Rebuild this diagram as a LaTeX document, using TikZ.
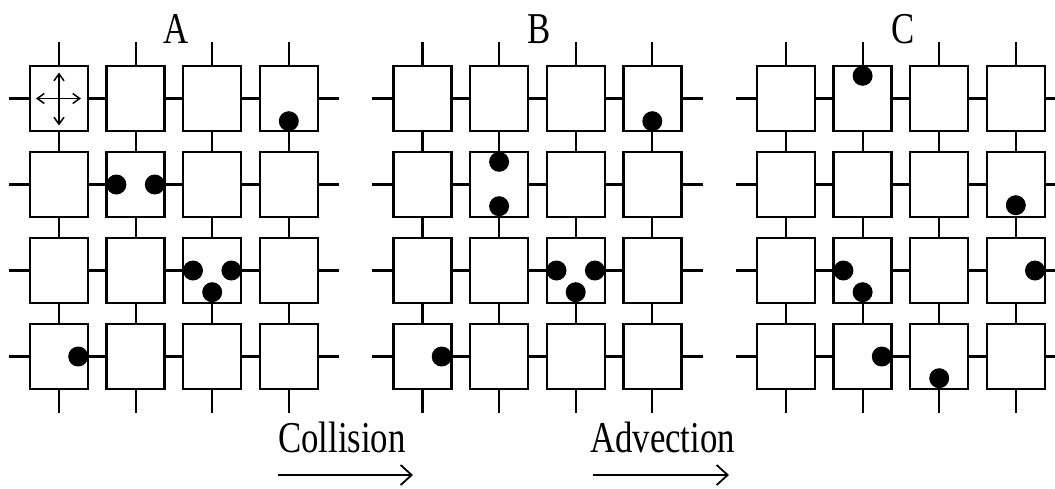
\documentclass[tikz,border=0pt]{standalone}
\usepackage{fontspec}
\setmainfont{Liberation Serif}
\usetikzlibrary{arrows.meta,calc}

\begin{document}
\begin{tikzpicture}[x=1pt,y=-1pt,
  cell/.style={draw,line width=2.4pt,minimum width=58pt,minimum height=65pt,inner sep=0pt,fill=white},
  link/.style={line width=2.2pt},
  pdot/.style={circle,fill=black,minimum size=20pt,inner sep=0pt},
  title/.style={font=\fontsize{44}{48}\selectfont,xscale=0.79,inner sep=0pt},
  flow/.style={line width=1.8pt,-{Straight Barb[length=11pt,width=20pt,line width=1.8pt]}},
  dirs/.style={line width=1.5pt,{Straight Barb[length=7pt,width=10pt,line width=1.5pt]}-{Straight Barb[length=7pt,width=10pt,line width=1.5pt]}}
]
\clip (0,0) rectangle (1055,488);
\fill[white] (0,0) rectangle (1055,488);

% three 4x4 lattices with their links
\foreach \g/\ox in {A/0,B/363.5,C/727} {
  \foreach \r in {1,...,4} {
    \foreach \c in {1,...,4} {
      \node[cell] (\g-\r-\c) at ({\ox+59+76.6*(\c-1)}, {98.5+86*(\r-1)}) {};
    }
  }
  \foreach \r in {1,...,4} {
    \foreach \c [evaluate=\c as \n using int(\c+1)] in {1,2,3} {
      \draw[link] (\g-\r-\c) -- (\g-\r-\n);
      \draw[link] (\g-\c-\r) -- (\g-\n-\r);
    }
    \draw[link] (\g-1-\r.north) -- ++(0,-23);
    \draw[link] (\g-4-\r.south) -- ++(0,23);
    \draw[link] (\g-\r-1.west) -- ++(-20,0);
    \draw[link] (\g-\r-4.east) -- ++(20,0);
  }
  \node[title,anchor=base] (lab-\g) at (\ox+176,43) {\g};
}

% lattice directions
\draw[dirs] ([yshift=26pt]A-1-1.center) -- ([yshift=-27pt]A-1-1.center);
\draw[dirs] ([xshift=-23pt]A-1-1.center) -- ([xshift=22pt]A-1-1.center);

% particles, state A
\node[pdot] (a1) at ([yshift=11pt]A-1-4.south) {};
\node[pdot] (a2) at ([xshift=11pt]A-2-2.west) {};
\node[pdot] (a3) at ([xshift=-11pt]A-2-2.east) {};
\node[pdot] (a4) at ([xshift=11pt]A-3-3.west) {};
\node[pdot] (a5) at ([xshift=-11pt]A-3-3.east) {};
\node[pdot] (a6) at ([yshift=12pt]A-3-3.south) {};
\node[pdot] (a7) at ([xshift=-11pt]A-4-1.east) {};

% particles, state B
\node[pdot] (b1) at ([yshift=11pt]B-1-4.south) {};
\node[pdot] (b2) at ([yshift=-11pt]B-2-2.north) {};
\node[pdot] (b3) at ([yshift=12pt]B-2-2.south) {};
\node[pdot] (b4) at ([xshift=11pt]B-3-3.west) {};
\node[pdot] (b5) at ([xshift=-11pt]B-3-3.east) {};
\node[pdot] (b6) at ([yshift=12pt]B-3-3.south) {};
\node[pdot] (b7) at ([xshift=-11pt]B-4-1.east) {};

% particles, state C
\node[pdot] (c1) at ([yshift=-11pt]C-1-2.north) {};
\node[pdot] (c2) at ([yshift=13pt]C-2-4.south) {};
\node[pdot] (c3) at ([xshift=11pt]C-3-2.west) {};
\node[pdot] (c4) at ([yshift=12pt]C-3-2.south) {};
\node[pdot] (c5) at ([xshift=-11pt]C-3-4.east) {};
\node[pdot] (c6) at ([xshift=-11pt]C-4-2.east) {};
\node[pdot] (c7) at ([yshift=12pt]C-4-3.south) {};

% steps
\node[title,anchor=base west] (collision) at (278,452) {Collision};
\node[title,anchor=base west] (advection) at (590,452) {Advection};
\coordinate (col-s) at (278,475);
\coordinate (col-e) at (413,475);
\coordinate (adv-s) at (593,475);
\coordinate (adv-e) at (729,475);
\draw[flow] (col-s) -- (col-e);
\draw[flow] (adv-s) -- (adv-e);
\end{tikzpicture}
\end{document}
